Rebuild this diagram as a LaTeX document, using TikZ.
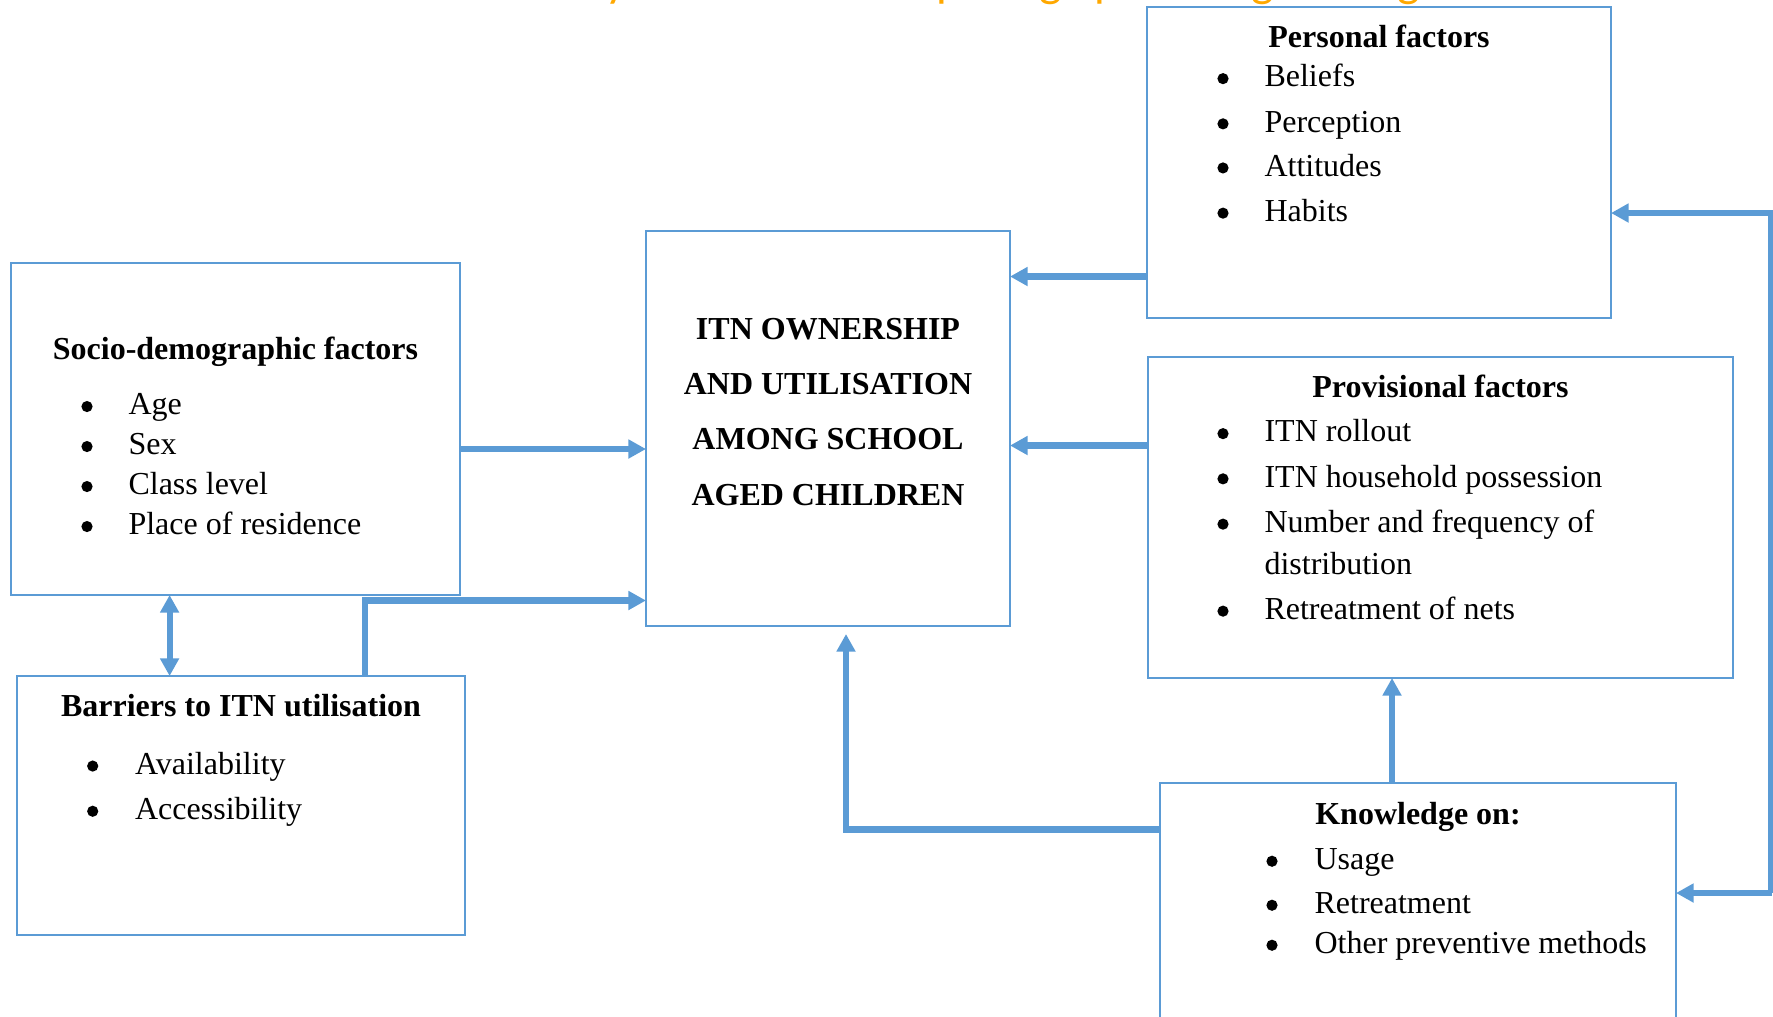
\documentclass[tikz,border=0pt]{standalone}
\usepackage{fontspec}
\setmainfont{Liberation Serif}
\newfontfamily\calib{Carlito}
\usetikzlibrary{arrows.meta}
\definecolor{lblue}{RGB}{91,155,213}
\definecolor{orng}{RGB}{255,168,0}
\begin{document}
\begin{tikzpicture}[x=0.375pt,y=-0.375pt,
  myTip/.tip={Triangle[length=6.6pt,width=6.8pt]},
  box/.style={draw=lblue,line width=0.85pt,inner sep=0pt,outer sep=0pt},
  arr/.style={draw=lblue,line width=2.3pt,-myTip},
  darr/.style={draw=lblue,line width=2.3pt,myTip-myTip},
  txt/.style={anchor=base west,inner sep=0pt,font=\fontsize{12}{14}\selectfont},
  ttl/.style={anchor=base,inner sep=0pt,font=\fontsize{12}{14}\selectfont\bfseries},
  bul/.style={circle,fill=black,draw=none,inner sep=0pt,minimum size=4.2pt,yshift=3.1pt},
  orn/.style={inner sep=0pt,text=orng,font=\calib\fontsize{18}{20}\selectfont}]
\useasboundingbox (0,0) rectangle (1773,1016);

% clipped orange title fragments
\node[orn,anchor=base] (o1) at (616,-4) {y};
\node[orn,anchor=base west] (o2) at (936,-4) {p};
\node[orn,anchor=base] (o3) at (1051,-4) {g};
\node[orn,anchor=base west] (o4) at (1094,-4) {p};
\node[orn,anchor=base] (o5) at (1263,-4) {g};
\node[orn,anchor=base] (o6) at (1409,-4) {g};

% boxes
\node[box,minimum width={464*0.375pt},minimum height={311*0.375pt}] (pers) at (1379,162.5) {};
\node[box,minimum width={449*0.375pt},minimum height={332*0.375pt}] (socio) at (235.5,429) {};
\node[box,minimum width={364*0.375pt},minimum height={395*0.375pt}] (ctr) at (828,428.5) {};
\node[box,minimum width={585*0.375pt},minimum height={321*0.375pt}] (prov) at (1440.5,517.5) {};
\node[box,minimum width={448*0.375pt},minimum height={259*0.375pt}] (barr) at (241,805.5) {};
\node[box,minimum width={516*0.375pt},minimum height={257*0.375pt}] (know) at (1418,911.5) {};

\begin{scope}[shift={(0,1.5)}]
% Personal factors
\node[ttl] (pt) at (1379,45.8) {Personal factors};
\node[bul] (pb1) at (1223,85.4) {};   \node[txt] (p1) at (1264,85.4) {Beliefs};
\node[bul] (pb2) at (1223,130.6) {};  \node[txt] (p2) at (1264,130.6) {Perception};
\node[bul] (pb3) at (1223,174.7) {};  \node[txt] (p3) at (1264,174.7) {Attitudes};
\node[bul] (pb4) at (1223,219.9) {};  \node[txt] (p4) at (1264,219.9) {Habits};

% Centre
\node[ttl] (c1) at (828,337.5) {ITN OWNERSHIP};
\node[ttl] (c2) at (828,393) {AND UTILISATION};
\node[ttl] (c3) at (828,448.3) {AMONG SCHOOL};
\node[ttl] (c4) at (828,503.7) {AGED CHILDREN};

% Socio-demographic
\node[ttl] (st) at (235.5,358) {Socio-demographic factors};
\node[bul] (sb1) at (87,413.3) {}; \node[txt] (s1) at (128,413.3) {Age};
\node[bul] (sb2) at (87,453.3) {}; \node[txt] (s2) at (128,453.3) {Sex};
\node[bul] (sb3) at (87,493.3) {}; \node[txt] (s3) at (128,493.3) {Class level};
\node[bul] (sb4) at (87,533.3) {}; \node[txt] (s4) at (128,533.3) {Place of residence};

% Barriers
\node[ttl] (bt) at (241,715.2) {Barriers to ITN utilisation};
\node[bul] (bb1) at (92.7,772.8) {}; \node[txt] (b1) at (134.6,772.8) {Availability};
\node[bul] (bb2) at (92.7,818) {};   \node[txt] (b2) at (134.6,818) {Accessibility};

% Provisional
\node[ttl] (rt0) at (1440.5,396.3) {Provisional factors};
\node[bul] (rb1) at (1223,440.4) {}; \node[txt] (r1) at (1264,440.4) {ITN rollout};
\node[bul] (rb2) at (1223,485.6) {}; \node[txt] (r2) at (1264,485.6) {ITN household possession};
\node[bul] (rb3) at (1223,530.9) {}; \node[txt] (r3) at (1264,530.9) {Number and frequency of};
\node[txt] (r3b) at (1264,572.7) {distribution};
\node[bul] (rb4) at (1223,617.9) {}; \node[txt] (r4) at (1264,617.9) {Retreatment of nets};

% Knowledge
\node[ttl] (kt) at (1418,823) {Knowledge on:};
\node[bul] (kb1) at (1272,868) {}; \node[txt] (k1) at (1314,868) {Usage};
\node[bul] (kb2) at (1272,912) {}; \node[txt] (k2) at (1314,912) {Retreatment};
\node[bul] (kb3) at (1272,952) {}; \node[txt] (k3) at (1314,952) {Other preventive methods};
\end{scope}

% connectors
\draw[arr] (pers.west |- 0,276.5) -- (ctr.east |- 0,276.5);
\draw[arr] (prov.west |- 0,445.5) -- (ctr.east |- 0,445.5);
\draw[arr] (socio.east |- 0,449) -- (ctr.west |- 0,449);
\draw[arr] (barr.north -| 365,0) |- (ctr.west |- 0,600.5);
\draw[darr] (socio.south -| 169.6,0) -- (barr.north -| 169.6,0);
\draw[arr,shorten >=3pt] (know.west |- 0,829.5) -| (ctr.south -| 846,0);
\draw[arr] (know.north -| 1392,0) -- (prov.south -| 1392,0);
\coordinate (rtop) at (1771.5,213);
\coordinate (rbot) at (1771.5,893);
\draw[arr] (rbot) -- (rtop) -- (pers.east |- rtop);
\draw[arr] (rbot) -- (know.east |- rbot);
\end{tikzpicture}
\end{document}
